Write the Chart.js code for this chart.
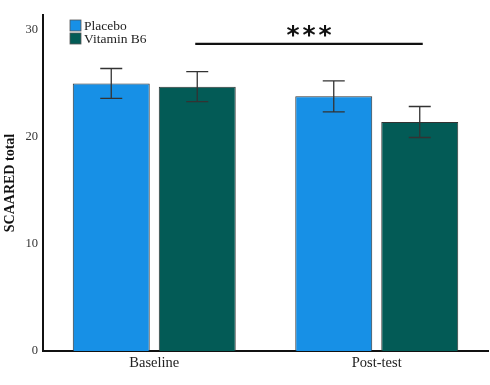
<!DOCTYPE html>
<html>
<head>
<meta charset="utf-8">
<script src="https://cdn.jsdelivr.net/npm/chart.js@4/dist/chart.umd.min.js"></script>
<style>
  html, body { margin: 0; padding: 0; background: #fff; }
  #wrap { width: 490px; height: 385px; }
</style>
</head>
<body>
<div id="wrap"><canvas id="chart"></canvas></div>
<script>
// values
const categories = ['Baseline', 'Post-test'];
const placebo = [25.0, 23.8];
const placeboErr = [1.4, 1.45];
const vitaminB6 = [24.7, 21.4];
const vitaminB6Err = [1.4, 1.45];
const yTicks = [0, 10, 20, 30];
const sigLevel = 28.7;
const sigLabel = '***';

const blue = '#1790e6';
const teal = '#035b56';
const serif = "'Liberation Serif', 'DejaVu Serif', serif";

// error bars, significance line and in-plot legend
const extras = {
  id: 'extras',
  afterDatasetsDraw(chart) {
    const ctx = chart.ctx;
    const y = chart.scales.y;
    const errs = [placeboErr, vitaminB6Err];
    ctx.save();
    ctx.strokeStyle = '#333';
    ctx.lineWidth = 1.3;
    chart.data.datasets.forEach((ds, di) => {
      chart.getDatasetMeta(di).data.forEach((bar, i) => {
        const v = ds.data[i], e = errs[di][i];
        const top = y.getPixelForValue(v + e), bot = y.getPixelForValue(v - e);
        ctx.beginPath();
        ctx.moveTo(bar.x, top); ctx.lineTo(bar.x, bot);
        ctx.moveTo(bar.x - 11, top); ctx.lineTo(bar.x + 11, top);
        ctx.moveTo(bar.x - 11, bot); ctx.lineTo(bar.x + 11, bot);
        ctx.stroke();
      });
    });

    // significance bar: from the vitamin B6 bar at baseline to the one at post-test
    const b6 = chart.getDatasetMeta(1).data;
    const x0 = b6[0].x - 2, x1 = b6[1].x + 3;
    const sy = y.getPixelForValue(sigLevel);
    ctx.strokeStyle = '#111';
    ctx.lineWidth = 2.4;
    ctx.beginPath();
    ctx.moveTo(x0, sy); ctx.lineTo(x1, sy);
    ctx.stroke();
    ctx.fillStyle = '#111';
    ctx.font = "bold 25px 'DejaVu Sans', sans-serif";
    ctx.textAlign = 'center';
    ctx.textBaseline = 'alphabetic';
    const cx = (x0 + x1) / 2;
    [...sigLabel].forEach((ch, k) => ctx.fillText(ch, cx + (k - 1) * 16, sy - 1));

    // legend
    const lx = chart.chartArea.left + 27, ly = chart.chartArea.top + 5;
    ctx.font = '13.5px ' + serif;
    ctx.textAlign = 'left';
    ctx.textBaseline = 'middle';
    chart.data.datasets.forEach((ds, di) => {
      const yy = ly + di * 13;
      ctx.fillStyle = ds.backgroundColor;
      ctx.fillRect(lx, yy, 11, 11);
      ctx.strokeStyle = '#555';
      ctx.lineWidth = 0.8;
      ctx.strokeRect(lx, yy, 11, 11);
      ctx.fillStyle = '#222';
      ctx.fillText(ds.label, lx + 14, yy + 6);
    });
    ctx.restore();
  }
};

new Chart(document.getElementById('chart'), {
  type: 'bar',
  data: {
    labels: categories,
    datasets: [
      { label: 'Placebo', data: placebo, backgroundColor: blue,
        borderColor: '#333', borderWidth: 1,
        barPercentage: 0.895, categoryPercentage: 0.773 },
      { label: 'Vitamin B6', data: vitaminB6, backgroundColor: teal,
        borderColor: '#333', borderWidth: 1,
        barPercentage: 0.895, categoryPercentage: 0.773 }
    ]
  },
  options: {
    responsive: true,
    maintainAspectRatio: false,
    animation: false,
    layout: { padding: { top: 15, right: 2, left: 0, bottom: 0 } },
    plugins: { legend: { display: false }, tooltip: { enabled: false } },
    scales: {
      x: {
        grid: { display: false, drawTicks: false },
        border: { color: '#111', width: 2 },
        ticks: { color: '#222', font: { family: serif, size: 14.5 }, padding: 3 },
        afterFit(s) { s.height = 34; }
      },
      y: {
        min: 0, max: 31.4,
        grid: { display: false, drawTicks: false },
        border: { color: '#111', width: 2 },
        afterBuildTicks(s) { s.ticks = yTicks.map(v => ({ value: v })); },
        ticks: { color: '#333', font: { family: serif, size: 12.5 }, padding: 5 },
        title: { display: true, text: 'SCAARED total', color: '#111',
                 font: { family: serif, size: 14, weight: 'bold' }, padding: { top: 2, bottom: 0 } },
        afterFit(s) { s.width = 43; }
      }
    }
  },
  plugins: [extras]
});
</script>
</body>
</html>
